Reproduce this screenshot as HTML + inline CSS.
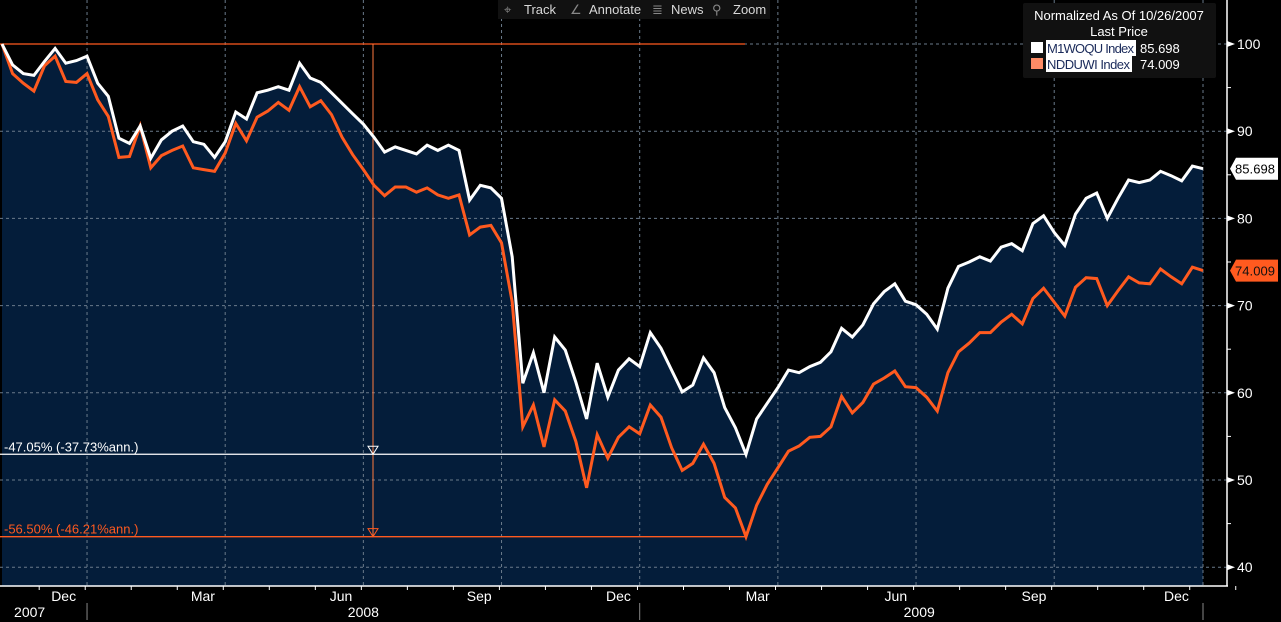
<!DOCTYPE html>
<html><head><meta charset="utf-8">
<style>
html,body{margin:0;padding:0;background:#000;}
svg{display:block;font-family:"Liberation Sans",sans-serif;}
</style></head>
<body>
<svg id="chart" width="1281" height="622" viewBox="0 0 1281 622" xmlns="http://www.w3.org/2000/svg">
<rect x="0" y="0" width="1281" height="622" fill="#000"/>
<g id="fill"></g>
<g id="grid"></g>
<g id="ann"></g>
<g id="series"></g>
<g id="axes"></g>
<g font-size="13" fill="#d8d8d8">
  <rect x="498" y="0" width="272" height="19" fill="#111"/>
  <g><text x="504" y="14" fill="#888">⌖</text><text x="524" y="14">Track</text></g>
  <g><text x="570" y="14" fill="#888">∠</text><text x="589" y="14">Annotate</text></g>
  <g><text x="652" y="14" fill="#888">≣</text><text x="671" y="14">News</text></g>
  <g><text x="712" y="14" fill="#888">⚲</text><text x="733" y="14">Zoom</text></g>
</g>
<g font-size="13">
  <rect x="1023" y="3" width="193" height="75" fill="#111" rx="2"/>
  <text x="1119" y="20" fill="#fff" text-anchor="middle">Normalized As Of 10/26/2007</text>
  <text x="1119" y="36" fill="#fff" text-anchor="middle">Last Price</text>
  <g>
    <rect x="1031" y="42" width="12" height="11" fill="#fff"/>
    <rect x="1046" y="40" width="90" height="16" fill="#fff"/>
    <text x="1047" y="53" fill="#1a2a5a" textLength="87">M1WOQU Index</text>
    <text x="1140" y="53" fill="#fff">85.698</text>
  </g>
  <g>
    <rect x="1031" y="58" width="12" height="11" fill="#ff8c66"/>
    <rect x="1046" y="56" width="86" height="16" fill="#fff"/>
    <text x="1047" y="69" fill="#1a2a5a" textLength="83">NDDUWI Index</text>
    <text x="1140" y="69" fill="#fff">74.009</text>
  </g>
</g>
</svg>
<script>
const weeks = 114;
const m1woqu = [100,97.6,96.6,96.4,98.0,99.5,97.8,98.1,98.6,95.5,94.0,89.2,88.6,90.6,86.9,89.0,90.0,90.6,88.8,88.5,87.0,88.8,92.2,91.4,94.4,94.7,95.1,94.7,97.8,96.1,
95.6,94.4,93.2,92.0,90.8,89.3,87.6,88.2,87.8,87.4,88.4,87.8,88.4,87.8,82.1,83.8,83.5,82.3,75.6,
61.1,64.6,60.0,66.4,64.9,61.2,57.0,63.4,59.5,62.6,63.9,63.0,66.9,65.1,62.6,60.1,60.9,64.0,62.3,58.3,56.0,52.95,57.0,58.8,
60.6,62.6,62.3,63.0,63.5,64.7,67.4,66.4,67.8,70.2,71.6,72.5,70.5,70.1,69.0,67.3,72.0,74.5,75.0,75.6,75.1,76.7,77.1,76.3,79.4,80.3,78.4,76.9,80.5,82.3,82.9,80.0,82.3,84.4,84.1,84.4,85.4,84.9,84.3,86.0,85.698];
const ndduwi = [100,96.6,95.5,94.6,97.5,98.6,95.7,95.6,96.6,93.6,91.7,87.0,87.1,90.6,85.8,87.2,87.8,88.3,85.8,85.6,85.4,87.5,90.9,88.9,91.6,92.3,93.3,92.4,95.1,92.8,
93.5,91.9,89.3,87.3,85.6,83.8,82.6,83.6,83.6,83.0,83.5,82.7,82.3,82.7,78.1,79.0,79.2,77.2,70.4,
56.1,58.6,53.8,59.2,57.9,54.4,49.1,55.2,52.5,54.9,56.1,55.3,58.6,57.2,53.7,51.1,51.9,54.1,51.9,48.0,46.8,43.5,47.1,49.5,
51.4,53.3,53.9,54.9,55.0,56.1,59.6,57.7,58.9,61.0,61.7,62.5,60.7,60.6,59.5,57.9,62.3,64.7,65.7,66.9,66.9,68.1,69.0,67.9,70.8,72.0,70.4,68.8,72.1,73.2,73.1,70.0,71.7,73.3,72.6,72.5,74.2,73.3,72.5,74.4,74.009];
const yTicks = [100,90,80,70,60,50,40];
const monthLabels = ["Dec","Mar","Jun","Sep","Dec","Mar","Jun","Sep","Dec"];
const monthLabelWeeks = [5.8,18.9,31.9,44.9,58.0,71.1,84.1,97.1,110.5];
const quarterGridWeeks = [8,21,34,47,60,73,86,99,113];
const yearLabels = ["2007","2008","2009"];
const yearLabelWeeks = [2.6,34,86.3];
const yearSepWeeks = [8,60,113];
const lowWhite = 52.95, lowOrange = 43.5;
const whiteLabel = "-47.05% (-37.73%ann.)", orangeLabel = "-56.50% (-46.21%ann.)";

const NS = "http://www.w3.org/2000/svg";
const X0 = 2, X1 = 1203, AX = 1227, BOT = 586;
const xs = i => X0 + i * (X1 - X0) / (weeks - 1);
const ys = v => 44 + (100 - v) * 8.72;
function mk(tag, attrs, parent) {
  const e = document.createElementNS(NS, tag);
  for (const k in attrs) e.setAttribute(k, attrs[k]);
  parent.appendChild(e); return e;
}
const gFill = document.getElementById('fill'), gGrid = document.getElementById('grid'),
      gAnn = document.getElementById('ann'), gSer = document.getElementById('series'),
      gAx = document.getElementById('axes');

let d = "M" + xs(0) + "," + BOT;
for (let i = 0; i < weeks; i++) d += " L" + xs(i).toFixed(1) + "," + ys(Math.max(m1woqu[i], ndduwi[i])).toFixed(1);
d += " L" + xs(weeks - 1) + "," + BOT + " Z";
const fp = mk('path', {d: d, fill: '#041d3a'}, gFill);



yTicks.forEach(v => {
  const l = mk('line', {x1: 0, x2: AX, y1: ys(v), y2: ys(v), stroke: '#6a7a8a', 'stroke-dasharray': '3,3', 'stroke-width': 1}, gGrid);
  
  
});
quarterGridWeeks.forEach(w => {
  const l = mk('line', {x1: xs(w), x2: xs(w), y1: 0, y2: BOT, stroke: '#6a7a8a', 'stroke-dasharray': '3,3', 'stroke-width': 1}, gGrid);
  
  
});

const startTop = mk('line', {x1: 0, x2: 745, y1: ys(100), y2: ys(100), stroke: '#ff5a1f', 'stroke-width': 1.3}, gAnn);


const lw = mk('line', {x1: 0, x2: 746, y1: ys(lowWhite), y2: ys(lowWhite), stroke: '#fff', 'stroke-width': 1.3}, gAnn);


const lo = mk('line', {x1: 0, x2: 746, y1: ys(lowOrange), y2: ys(lowOrange), stroke: '#ff5a1f', 'stroke-width': 1.3}, gAnn);


const vl = mk('line', {x1: 373, x2: 373, y1: ys(100), y2: ys(lowOrange), stroke: '#ff7a3f', 'stroke-width': 1}, gAnn);


const t1 = mk('path', {d: `M368,${ys(lowWhite)-8} L378,${ys(lowWhite)-8} L373,${ys(lowWhite)} Z`, fill: 'none', stroke: '#fff'}, gAnn);


const t2 = mk('path', {d: `M368,${ys(lowOrange)-8} L378,${ys(lowOrange)-8} L373,${ys(lowOrange)} Z`, fill: 'none', stroke: '#ff5a1f'}, gAnn);


const tx1 = mk('text', {x: 4, y: ys(lowWhite) - 3, fill: '#fff', 'font-size': 13}, gAnn);
tx1.textContent = whiteLabel;


const tx2 = mk('text', {x: 4, y: ys(lowOrange) - 3, fill: '#ff5a1f', 'font-size': 13}, gAnn);
tx2.textContent = orangeLabel;



function line(arr, color, name) {
  const pts = arr.map((v, i) => xs(i).toFixed(1) + "," + ys(v).toFixed(1)).join(" ");
  const p = mk('polyline', {points: pts, fill: 'none', stroke: color, 'stroke-width': 3, 'stroke-linejoin': 'miter'}, gSer);
  
  
}
line(ndduwi, '#ff5a1f', 'ndduwi-line');
line(m1woqu, '#ffffff', 'm1woqu-line');

const ra = mk('line', {x1: AX, x2: AX, y1: 0, y2: BOT, stroke: '#fff', 'stroke-width': 1.5}, gAx);


const ba = mk('line', {x1: 0, x2: AX + 1, y1: BOT, y2: BOT, stroke: '#fff', 'stroke-width': 1.5}, gAx);


yTicks.forEach(v => {
  const a = mk('path', {d: `M${AX},${ys(v)-3} L${AX+8},${ys(v)} L${AX},${ys(v)+3} Z`, fill: '#fff'}, gAx);
  
  
  const t = mk('text', {x: AX + 10, y: ys(v) + 5, fill: '#fff', 'font-size': 14}, gAx);
  t.textContent = v;
  
  
  if (v > 40) {
    const m = mk('line', {x1: AX, x2: AX + 4, y1: ys(v - 5), y2: ys(v - 5), stroke: '#fff'}, gAx);
    
    
  }
});
for (let w = 0.5; w < weeks; w += 4.33) {
  const t = mk('line', {x1: xs(w + 3), x2: xs(w + 3), y1: BOT, y2: BOT + 4, stroke: '#fff'}, gAx);
  
  
}
monthLabels.forEach((m, i) => {
  const t = mk('text', {x: xs(monthLabelWeeks[i]), y: 601, fill: '#fff', 'font-size': 14, 'text-anchor': 'middle'}, gAx);
  t.textContent = m;
  
  
});
yearLabels.forEach((y, i) => {
  const t = mk('text', {x: xs(yearLabelWeeks[i]), y: 617, fill: '#fff', 'font-size': 14, 'text-anchor': 'middle'}, gAx);
  t.textContent = y;
  
  
});
yearSepWeeks.forEach(w => {
  const l = mk('line', {x1: xs(w), x2: xs(w), y1: 603, y2: 620, stroke: '#888'}, gAx);
  
  
});
function tag(v, bg, fg, name) {
  const y = ys(v);
  const p = mk('path', {d: `M${AX+3},${y} L${AX+9},${y-11} L1278,${y-11} L1278,${y+11} L${AX+9},${y+11} Z`, fill: bg}, gAx);
  
  
  const t = mk('text', {x: 1235, y: y + 5, fill: fg, 'font-size': 13, textLength: 40}, gAx);
  t.textContent = v.toFixed(3);
  
  
}
tag(m1woqu[weeks - 1], '#fff', '#000', 'm1woqu-last-value');
tag(ndduwi[weeks - 1], '#ff5a1f', '#111', 'ndduwi-last-value');
</script>
</body></html>
